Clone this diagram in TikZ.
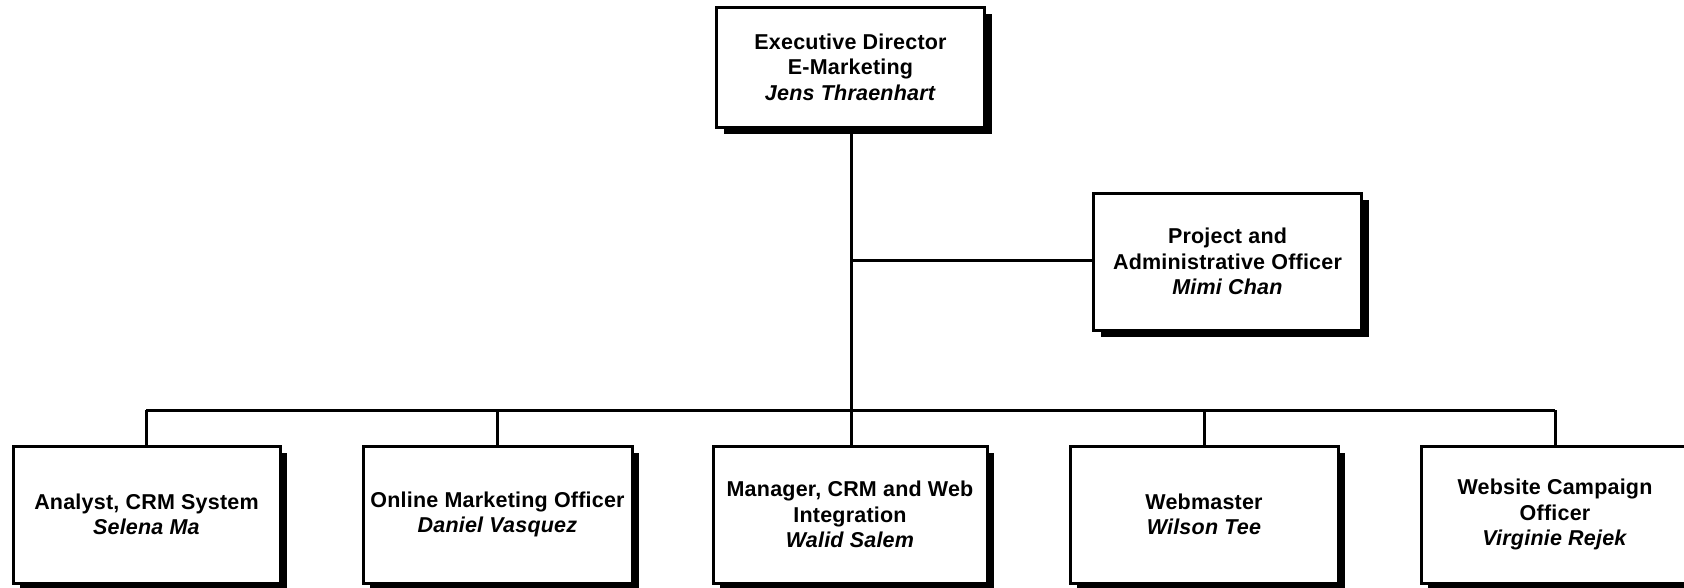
\documentclass[tikz,border=0pt]{standalone}
\usepackage{fontspec}
\setmainfont{Liberation Sans}[LetterSpace=1]
\usetikzlibrary{shadows}
\tikzset{
  orgbox/.style={draw=black, line width=3pt, fill=white, align=center,
    minimum width=#1, minimum height=135pt, inner sep=0pt,
    font=\fontsize{21.5}{25.5}\selectfont\bfseries,
    general shadow={fill=black, shadow xshift=7pt, shadow yshift=-7pt}},
  orgbox/.default=268pt,
  link/.style={draw=black, line width=3pt},
}
\begin{document}
\begin{tikzpicture}[x=1pt,y=-1pt]
\useasboundingbox (0,0) rectangle (1684,587);
\coordinate (j1) at (851,260);
\coordinate (j2) at (851,410);
\coordinate (b1) at (146,410);
\coordinate (b2) at (497,410);
\coordinate (b4) at (1204,410);
\coordinate (b5) at (1555,410);
\node[orgbox, minimum height=120pt] (exec) at (850.5,67) {Executive Director\\E-Marketing\\\textit{Jens Thraenhart}};
\node[orgbox, minimum height=137pt] (proj) at (1227.5,261.5) {Project and\\Administrative Officer\\\textit{Mimi Chan}};
\node[orgbox, minimum width=267pt, minimum height=137pt] (n1) at (146.5,514.5) {Analyst, CRM System\\\textit{Selena Ma}};
\node[orgbox, minimum width=269pt, minimum height=137pt] (n2) at (497.5,514.5) {Online Marketing Officer\\\textit{Daniel Vasquez}};
\node[orgbox, minimum width=274pt, minimum height=137pt] (n3) at (850,514.5) {Manager, CRM and Web\\Integration\\\textit{Walid Salem}};
\node[orgbox, minimum width=268pt, minimum height=137pt] (n4) at (1204,514.5) {Webmaster\\\textit{Wilson Tee}};
\node[orgbox, minimum width=268pt, minimum height=137pt] (n5) at (1555,514.5) {Website Campaign\\Officer\\\textit{Virginie Rejek}};
\draw[link] (exec.south -| j2) -- (j2);
\draw[link] (j1) -- (j1 -| proj.west);
\draw[link] (b1) -- (b5);
\draw[link] (b1) -- (b1 |- n1.north);
\draw[link] (b2) -- (b2 |- n2.north);
\draw[link] (j2) -- (j2 |- n3.north);
\draw[link] (b4) -- (b4 |- n4.north);
\draw[link] (b5) -- (b5 |- n5.north);
\end{tikzpicture}
\end{document}
